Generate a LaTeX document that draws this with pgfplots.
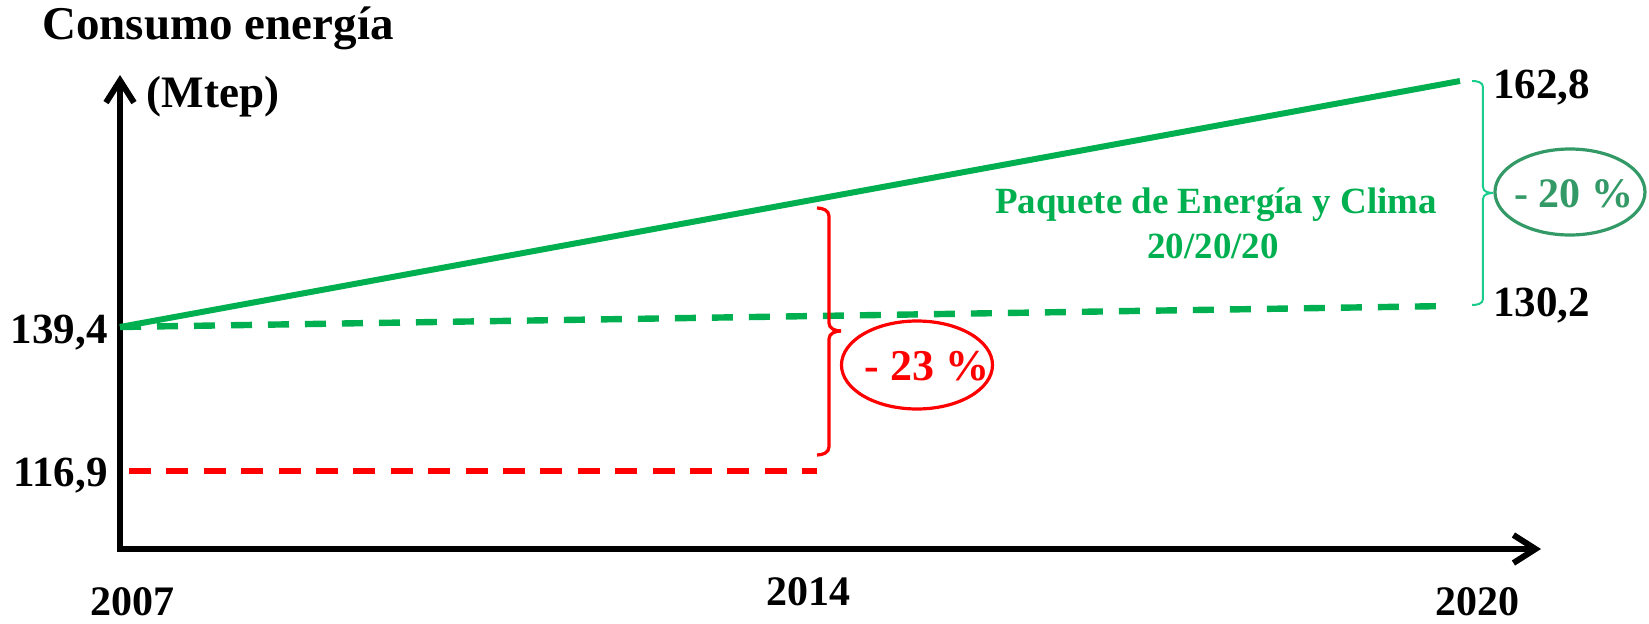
\documentclass[border=0pt]{standalone}
\usepackage{pgfplots}
\pgfplotsset{compat=1.18}
\usepackage{fontspec}
\setmainfont{Liberation Serif}
\usetikzlibrary{arrows.meta}
\definecolor{pgreen}{HTML}{00B050}
\definecolor{bgreen}{HTML}{19CC8C}
\definecolor{egreen}{HTML}{339966}
\definecolor{pred}{HTML}{FF0000}
\newcommand{\fs}[1]{\fontsize{#1}{#1}\selectfont\bfseries}
\begin{document}
\begin{tikzpicture}
\begin{axis}[
  width=824.5pt, height=311.5pt, scale only axis,
  xmin=2005.8358, xmax=2021.8336, ymin=0, ymax=623,
  hide axis, clip=false]
% axes
\draw[line width=3pt, line cap=round, line join=miter,
  {Straight Barb[length=11pt,width=14pt]}-{Straight Barb[length=11pt,width=14pt]}]
  (axis cs:2007,548) -- (axis cs:2007,74) -- (axis cs:2020.786,74);
% series
\addplot[pgreen, line width=3pt, no markers] coordinates {(2007,296) (2020,542)};
\addplot[pgreen, line width=3.2pt, no markers, dash pattern=on 10.5pt off 8pt] coordinates {(2007,296) (2019.884,317)};
\addplot[pred, line width=3.2pt, no markers, dash pattern=on 11pt off 7.7pt] coordinates {(2007.087,152) (2013.762,152)};
% red bracket
\draw[pred, line width=1.6pt]
  (axis cs:2013.762,415) to[out=0,in=90] (axis cs:2013.878,407) -- (axis cs:2013.878,300)
  to[out=-90,in=180] (axis cs:2013.995,292);
\draw[pred, line width=1.6pt]
  (axis cs:2013.995,292) to[out=180,in=90] (axis cs:2013.878,284) -- (axis cs:2013.878,176)
  to[out=-90,in=0] (axis cs:2013.762,168);
% green bracket
\draw[bgreen, line width=1pt]
  (axis cs:2020.117,542) to[out=0,in=90] (axis cs:2020.223,536) -- (axis cs:2020.223,436)
  to[out=-90,in=180] (axis cs:2020.320,430);
\draw[bgreen, line width=1pt]
  (axis cs:2020.320,430) to[out=180,in=90] (axis cs:2020.223,424) -- (axis cs:2020.223,324)
  to[out=-90,in=0] (axis cs:2020.117,318);
% ellipses
\draw[pred, line width=1.6pt] (axis cs:2014.732,258) ellipse [x radius=37.75pt, y radius=22pt];
\draw[egreen, line width=1.6pt] (axis cs:2021.067,431) ellipse [x radius=37.5pt, y radius=21.5pt];
% texts
\node[anchor=base, inner sep=0, pred] at (axis cs:2014.829,243) {\fs{22}- 23 \%};
\node[anchor=base, inner sep=0, egreen] at (axis cs:2021.106,416) {\fs{21}- 20 \%};
\node[anchor=base, inner sep=0, pgreen] at (axis cs:2017.633,410) {\fs{18.5}Paquete de Energía y Clima};
\node[anchor=base, inner sep=0, pgreen] at (axis cs:2017.604,365) {\fs{18.5}20/20/20};
\node[anchor=base, inner sep=0] at (axis cs:2007.951,583) {\fs{23.5}Consumo energía};
\node[anchor=base, inner sep=0] at (axis cs:2007.902,516) {\fs{22.5}(Mtep)};
\node[anchor=base west, inner sep=0] at (axis cs:2020.320,524) {\fs{21.5}162,8};
\node[anchor=base west, inner sep=0] at (axis cs:2020.320,307) {\fs{21.5}130,2};
\node[anchor=base east, inner sep=0] at (axis cs:2006.884,280) {\fs{21.5}139,4};
\node[anchor=base east, inner sep=0] at (axis cs:2006.884,137) {\fs{21.5}116,9};
\node[anchor=base, inner sep=0] at (axis cs:2007.126,8) {\fs{21}2007};
\node[anchor=base, inner sep=0] at (axis cs:2013.684,18) {\fs{21}2014};
\node[anchor=base, inner sep=0] at (axis cs:2020.165,8) {\fs{21}2020};
\end{axis}
\pgfresetboundingbox
\path (current axis.south west) rectangle (current axis.north east);
\end{tikzpicture}
\end{document}
